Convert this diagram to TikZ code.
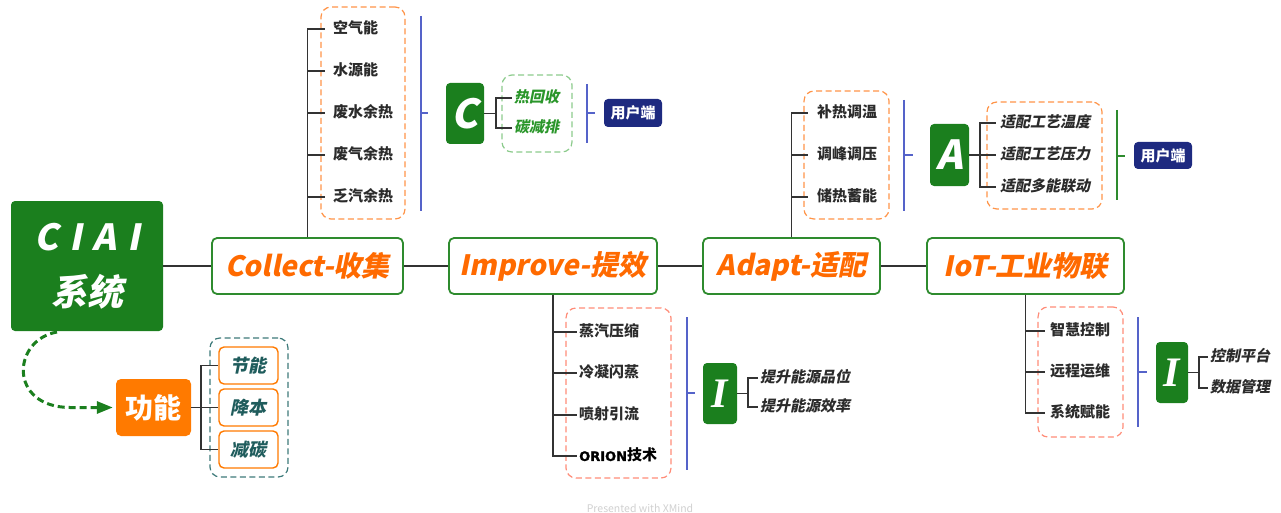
\documentclass[tikz,border=0pt]{standalone}
\usepackage{fontspec}
\setmainfont{Noto Sans CJK SC}
\newfontfamily\cjki{Noto Sans CJK SC}[FakeSlant=0.2]
\newfontfamily\serifi{Liberation Serif}
\usetikzlibrary{arrows.meta}
\definecolor{dgreen}{HTML}{1B7F1E}
\definecolor{mgreen}{HTML}{2E8B2E}
\definecolor{morange}{HTML}{FF6A00}
\definecolor{forange}{HTML}{FF7A00}
\definecolor{dorange}{HTML}{FF9448}
\definecolor{salmon}{HTML}{FF8C78}
\definecolor{lgreen}{HTML}{8CCB8C}
\definecolor{teal}{HTML}{3D7A7A}
\definecolor{tealtext}{HTML}{1F5C5C}
\definecolor{bline}{HTML}{5563C9}
\definecolor{navy}{HTML}{1E2A80}
\definecolor{linec}{HTML}{333333}
\definecolor{itemc}{HTML}{2B2B2B}
\definecolor{gtext}{HTML}{2A962A}
\definecolor{wm}{HTML}{D0D0D0}
\tikzset{
  mainbox/.style={draw=mgreen, line width=1.8pt, rounded corners=5pt, fill=white,
    font=\cjki\bfseries\fontsize{28}{28}\selectfont, text=morange, inner sep=0pt, minimum height=56pt},
  letterbox/.style={fill=dgreen, rounded corners=4pt, text=white, inner sep=0pt},
  item/.style={anchor=west, font=\bfseries\fontsize{15}{15}\selectfont, text=itemc, inner sep=0pt, text height=11.7pt, text depth=1.8pt},
  iitem/.style={item, font=\cjki\bfseries\fontsize{15}{15}\selectfont},
  branch/.style={draw=linec, line width=1.3pt},
  mainline/.style={draw=linec, line width=2pt},
  dashbox/.style={draw=#1, line width=1.2pt, dash pattern=on 6pt off 3.5pt, rounded corners=10pt, inner sep=0pt},
  bracket/.style={draw=#1, line width=1.4pt},
  userbox/.style={fill=navy, rounded corners=4pt, text=white, font=\bfseries\fontsize{15}{15}\selectfont, inner sep=0pt, minimum width=58pt, minimum height=28pt},
  funcbox/.style={draw=forange, line width=1.4pt, rounded corners=5pt, fill=white, text=tealtext,
    font=\cjki\bfseries\fontsize{18}{18}\selectfont, minimum width=59pt, minimum height=37pt, inner sep=0pt}
}
\begin{document}
\begin{tikzpicture}[x=1pt,y=-1pt]
\useasboundingbox (0,0) rectangle (1281,513);
% ---- main nodes
\node[letterbox, minimum width=152pt, minimum height=130pt, align=center,
  font=\cjki\bfseries\fontsize{36}{57}\selectfont] (ciai) at (87,266)
  {C\hspace{0.3em}I\hspace{0.3em}A\hspace{0.3em}I\\[-2pt]系统};
\node[mainbox, minimum width=191pt] (collect) at (307.5,266) {Collect-收集};
\node[mainbox, minimum width=208pt] (improve) at (553,266) {Improve-提效};
\node[mainbox, minimum width=177pt] (adapt) at (791.5,266) {Adapt-适配};
\node[mainbox, minimum width=197pt] (iot) at (1025.5,266) {IoT-工业物联};
\draw[mainline] (ciai.east) -- (collect.west);
\draw[mainline] (collect.east) -- (improve.west);
\draw[mainline] (improve.east) -- (adapt.west);
\draw[mainline] (adapt.east) -- (iot.west);

% ---- function part
\node[fill=forange, rounded corners=5pt, text=white, font=\bfseries\fontsize{28}{28}\selectfont,
  minimum width=75pt, minimum height=57pt, inner sep=0pt] (gn) at (153.5,407.5) {功能};
\node[dashbox=teal, minimum width=78pt, minimum height=139pt] (fbox) at (249,407.5) {};
\node[funcbox] (jn) at (248.5,365.5) {节能};
\node[funcbox] (jb) at (248.5,407.5) {降本};
\node[funcbox] (jt) at (248.5,449.5) {减碳};
\draw[branch] (gn.east) -- (201,407.5) coordinate (gb);
\draw[branch] (gb) |- (jn.west);
\draw[branch] (gb) |- (jb.west);
\draw[branch] (gb) |- (jt.west);
\coordinate (cs) at (57,332);
\draw[draw=dgreen, line width=3pt, dash pattern=on 7pt off 4pt,
  -{Triangle[length=16pt,width=12pt,fill=dgreen]}]
  (cs) .. controls (12,340) and (8,407) .. (70,407.5) -- ([xshift=-3pt]gn.west);

% ---- Collect branch
\node[dashbox=dorange, minimum width=84pt, minimum height=212pt] (cdb) at (363,113) {};
\node[item] (c1) at (333,29) {空气能};
\node[item] (c2) at (333,71) {水源能};
\node[item] (c3) at (333,113) {废水余热};
\node[item] (c4) at (333,155) {废气余热};
\node[item] (c5) at (333,197) {乏汽余热};
\foreach \n in {c1,c2,c3,c4,c5}{\draw[branch] (collect.north) |- ([xshift=-8pt]\n.west);}
\draw[bracket=bline] (421,16) -- (421,211);
\draw[bracket=bline] (421,113) -- (428,113);
\node[letterbox, minimum width=38pt, minimum height=61pt, font=\cjki\bfseries\fontsize{40}{40}\selectfont] (cC) at (465,113.5) {C};
\node[dashbox=lgreen, minimum width=70pt, minimum height=77pt] (cgb) at (537,113.5) {};
\node[iitem, text=gtext] (ch1) at (514,98) {热回收};
\node[iitem, text=gtext] (ch2) at (514,128) {碳减排};
\draw[branch] (cC.east) -- (496,113.5) coordinate (cb);
\draw[branch] (cb) |- ([xshift=-2pt]ch1.west);
\draw[branch] (cb) |- ([xshift=-2pt]ch2.west);
\draw[bracket=bline] (587,84) -- (587,143);
\draw[bracket=bline] (587,113) -- (595,113);
\node[userbox] (u1) at (633,113) {用户端};

% ---- Improve branch
\node[dashbox=salmon, minimum width=105pt, minimum height=170pt] (idb) at (618.5,393) {};
\node[item] (i1) at (579,332) {蒸汽压缩};
\node[item] (i2) at (579,373) {冷凝闪蒸};
\node[item] (i3) at (579,415) {喷射引流};
\node[item, text=black] (i4) at (579,456) {\fontspec{DejaVu Sans}[FakeBold=1.5]\fontsize{13}{13}\selectfont ORION\fontspec{Noto Sans CJK SC}\bfseries\fontsize{15}{15}\selectfont 技术};
\foreach \n in {i1,i2,i3,i4}{\draw[branch] (improve.south) |- ([xshift=-2pt]\n.west);}
\draw[bracket=bline] (687,317) -- (687,470);
\draw[bracket=bline] (687,393) -- (695,393);
\node[letterbox, minimum width=34pt, minimum height=61pt, font=\serifi\bfseries\itshape\fontsize{42}{42}\selectfont] (iI) at (720,393.5) {I};
\node[iitem] (ih1) at (760,378) {提升能源品位};
\node[iitem] (ih2) at (760,407) {提升能源效率};
\draw[branch] (iI.east) -- (748,393.5) coordinate (ib);
\draw[branch] (ib) |- ([xshift=-2pt]ih1.west);
\draw[branch] (ib) |- ([xshift=-2pt]ih2.west);

% ---- Adapt branch
\node[dashbox=dorange, minimum width=85pt, minimum height=128pt] (adb) at (846.5,155) {};
\node[item] (a1) at (817,113) {补热调温};
\node[item] (a2) at (817,155) {调峰调压};
\node[item] (a3) at (817,197) {储热蓄能};
\foreach \n in {a1,a2,a3}{\draw[branch] (adapt.north) |- ([xshift=-9pt]\n.west);}
\draw[bracket=bline] (904,100) -- (904,211);
\draw[bracket=bline] (904,155) -- (913,155);
\node[letterbox, minimum width=39pt, minimum height=62pt, font=\cjki\bfseries\fontsize{40}{40}\selectfont] (aA) at (949.5,155) {A};
\node[dashbox=dorange, minimum width=115pt, minimum height=107pt] (adb2) at (1044.5,155.5) {};
\node[iitem] (ah1) at (1000,123) {适配工艺温度};
\node[iitem] (ah2) at (1000,155) {适配工艺压力};
\node[iitem] (ah3) at (1000,187) {适配多能联动};
\draw[branch] (aA.east) -- (980,155) coordinate (ab);
\draw[branch] (ab) |- ([xshift=-4pt]ah1.west);
\draw[branch] (ab) |- ([xshift=-4pt]ah2.west);
\draw[branch] (ab) |- ([xshift=-4pt]ah3.west);
\draw[bracket=mgreen] (1117,110) -- (1117,200);
\draw[bracket=mgreen] (1117,156) -- (1125,156);
\node[userbox, minimum height=27pt] (u2) at (1163,155.5) {用户端};

% ---- IoT branch
\node[dashbox=salmon, minimum width=85pt, minimum height=130pt] (tdb) at (1080.5,372) {};
\node[item] (t1) at (1050,331) {智慧控制};
\node[item] (t2) at (1050,372) {远程运维};
\node[item] (t3) at (1050,413) {系统赋能};
\foreach \n in {t1,t2,t3}{\draw[branch] (iot.south) |- ([xshift=-5pt]\n.west);}
\draw[bracket=bline] (1138,317) -- (1138,427);
\draw[bracket=bline] (1138,372) -- (1147,372);
\node[letterbox, minimum width=32pt, minimum height=61pt, font=\serifi\bfseries\itshape\fontsize{42}{42}\selectfont] (tI) at (1172,372.5) {I};
\node[iitem] (th1) at (1210,357) {控制平台};
\node[iitem] (th2) at (1210,388) {数据管理};
\draw[branch] (tI.east) -- (1199,372.5) coordinate (tb);
\draw[branch] (tb) |- ([xshift=-2pt]th1.west);
\draw[branch] (tb) |- ([xshift=-2pt]th2.west);

% ---- watermark
\node[text=wm, font=\fontsize{10.5}{10.5}\selectfont, inner sep=0pt] (wmk) at (640,508) {Presented with XMind};
\end{tikzpicture}
\end{document}
